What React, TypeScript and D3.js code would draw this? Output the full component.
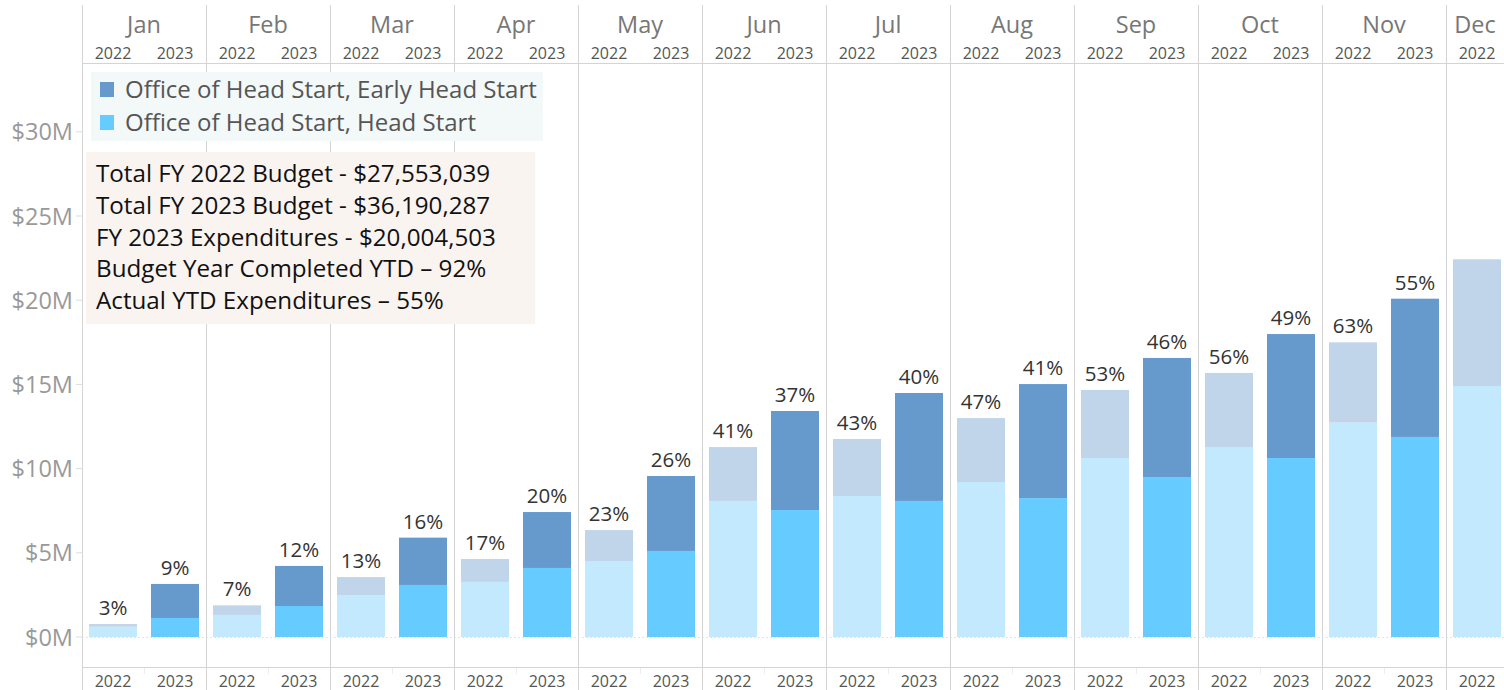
import React from "react";
import * as d3 from "d3";

const months = ["Jan", "Feb", "Mar", "Apr", "May", "Jun", "Jul", "Aug", "Sep", "Oct", "Nov", "Dec"];
const years = ["2022", "2023"];
// values in $M
const headStart2022 = [0.61, 1.31, 2.49, 3.27, 4.51, 8.08, 8.37, 9.2, 10.63, 11.28, 12.73, 14.9];
const earlyHeadStart2022 = [0.16, 0.57, 1.07, 1.36, 1.84, 3.2, 3.39, 3.8, 4.04, 4.4, 4.77, 7.53];
const headStart2023 = [1.13, 1.84, 3.09, 4.1, 5.11, 7.54, 8.08, 8.25, 9.5, 10.63, 11.88];
const earlyHeadStart2023 = [2.02, 2.38, 2.81, 3.32, 4.45, 5.88, 6.41, 6.77, 7.07, 7.36, 8.21];
const pct2022 = ["3%", "7%", "13%", "17%", "23%", "41%", "43%", "47%", "53%", "56%", "63%", ""];
const pct2023 = ["9%", "12%", "16%", "20%", "26%", "37%", "40%", "41%", "46%", "49%", "55%"];
const yTicks = [0, 5, 10, 15, 20, 25, 30];
const legendItems = ["Office of Head Start, Early Head Start", "Office of Head Start, Head Start"];
const annotationLines = [
  "Total FY 2022 Budget - $27,553,039",
  "Total FY 2023 Budget - $36,190,287",
  "FY 2023 Expenditures - $20,004,503",
  "Budget Year Completed YTD \u2013 92%",
  "Actual YTD Expenditures \u2013 55%",
];

const colors = {
  ehs2023: "#6699cc",
  hs2023: "#66ccff",
  ehs2022: "#c1d5ea",
  hs2022: "#c2e9fe",
};

const W = 1504;
const H = 690;
const FONT = "'Open Sans', 'Noto Sans', sans-serif";

export default function App() {
  const left = 82;
  const monthW = 124;
  const x = d3.scaleBand<string>().domain(months).range([left, left + monthW * months.length]);
  const sub = d3.scaleBand<string>().domain(years).range([0, monthW]).paddingInner(14 / 62).paddingOuter(7 / 62);
  const y = d3.scaleLinear().domain([0, 30]).range([637, 637 - 30 * 16.84]);

  const series = [
    { year: "2022", hs: headStart2022, ehs: earlyHeadStart2022, pct: pct2022, cHs: colors.hs2022, cEhs: colors.ehs2022 },
    { year: "2023", hs: headStart2023, ehs: earlyHeadStart2023, pct: pct2023, cHs: colors.hs2023, cEhs: colors.ehs2023 },
  ];

  const bars: React.ReactNode[] = [];
  series.forEach((s) => {
    s.hs.forEach((hv, i) => {
      const m = months[i];
      const bx = (x(m) as number) + (sub(s.year) as number);
      const bw = sub.bandwidth();
      const ev = s.ehs[i];
      const stack = d3.stack<any>().keys(["hs", "ehs"])([{ hs: hv, ehs: ev }]);
      const [hsSeg, ehsSeg] = stack.map((k) => k[0]);
      bars.push(
        <g key={s.year + m}>
          <rect x={bx} width={bw} y={y(hsSeg[1])} height={y(hsSeg[0]) - y(hsSeg[1])} fill={s.cHs} />
          <rect x={bx} width={bw} y={y(ehsSeg[1])} height={y(ehsSeg[0]) - y(ehsSeg[1])} fill={s.cEhs} />
          {s.pct[i] ? (
            <text x={bx + bw / 2} y={y(ehsSeg[1]) - 9} textAnchor="middle" fontSize={20.5} fill="#333">
              {s.pct[i]}
            </text>
          ) : null}
        </g>
      );
    });
  });

  const gridColor = "#d4d4d4";
  const visibleCenter = (m: string) => {
    const x0 = x(m) as number;
    const x1 = Math.min(x0 + monthW, W);
    return (x0 + x1) / 2;
  };
  const yearLabels = months.flatMap((m) =>
    years
      .map((yr) => ({ key: m + yr, cx: (x(m) as number) + (sub(yr) as number) + sub.bandwidth() / 2, yr }))
      .filter((d) => d.cx + 18 < W)
  );

  return (
    <svg width={W} height={H} style={{ position: "absolute", left: 0, top: 0, display: "block" }} fontFamily={FONT}>
      <rect width={W} height={H} fill="#fff" />
      {/* vertical month dividers */}
      {months.map((m) => (
        <line key={m} x1={(x(m) as number) + 0.5} x2={(x(m) as number) + 0.5} y1={5} y2={H} stroke={gridColor} strokeWidth={1} />
      ))}
      {/* header */}
      <line x1={left} x2={W} y1={63.5} y2={63.5} stroke={gridColor} />
      {months.map((m) => (
        <text key={"mh" + m} x={visibleCenter(m)} y={33} textAnchor="middle" fontSize={23.5} fill="#777">
          {m}
        </text>
      ))}
      {yearLabels.map((d) => (
        <text key={"yh" + d.key} x={d.cx} y={59} textAnchor="middle" fontSize={16} fill="#555">
          {d.yr}
        </text>
      ))}
      {/* bottom axis */}
      <line x1={left} x2={W} y1={667.5} y2={667.5} stroke={gridColor} />
      {months.map((m) => (
        <line key={"bt" + m} x1={(x(m) as number) + monthW / 2 + 0.5} x2={(x(m) as number) + monthW / 2 + 0.5} y1={668} y2={674} stroke="#eee" />
      ))}
      {yearLabels.map((d) => (
        <text key={"yb" + d.key} x={d.cx} y={687} textAnchor="middle" fontSize={16} fill="#555">
          {d.yr}
        </text>
      ))}
      {/* y axis */}
      {yTicks.map((t) => (
        <g key={"yt" + t}>
          <line x1={76} x2={82} y1={y(t)} y2={y(t)} stroke="#ddd" />
          <text x={73} y={y(t) + 8.5} textAnchor="end" fontSize={23.5} fill="#999">
            {`$${t}M`}
          </text>
        </g>
      ))}
      {/* zero line */}
      <line x1={left} x2={W} y1={y(0) + 0.5} y2={y(0) + 0.5} stroke="#e4e4e4" strokeDasharray="2,2" />
      {bars}
      {/* legend */}
      <rect x={91} y={72} width={452} height={69} fill="#f3f8f8" />
      {legendItems.map((t, i) => (
        <g key={t}>
          <rect x={100} y={82 + i * 33} width={14} height={15} fill={i === 0 ? colors.ehs2023 : colors.hs2023} />
          <text x={125} y={98 + i * 33} fontSize={24} fill="#555">
            {t}
          </text>
        </g>
      ))}
      {/* annotation */}
      <rect x={86} y={152} width={449} height={172} fill="#faf4f0" />
      {annotationLines.map((t, i) => (
        <text key={t} x={96} y={182 + i * 31.8} fontSize={24.2} fill="#111">
          {t}
        </text>
      ))}
    </svg>
  );
}
